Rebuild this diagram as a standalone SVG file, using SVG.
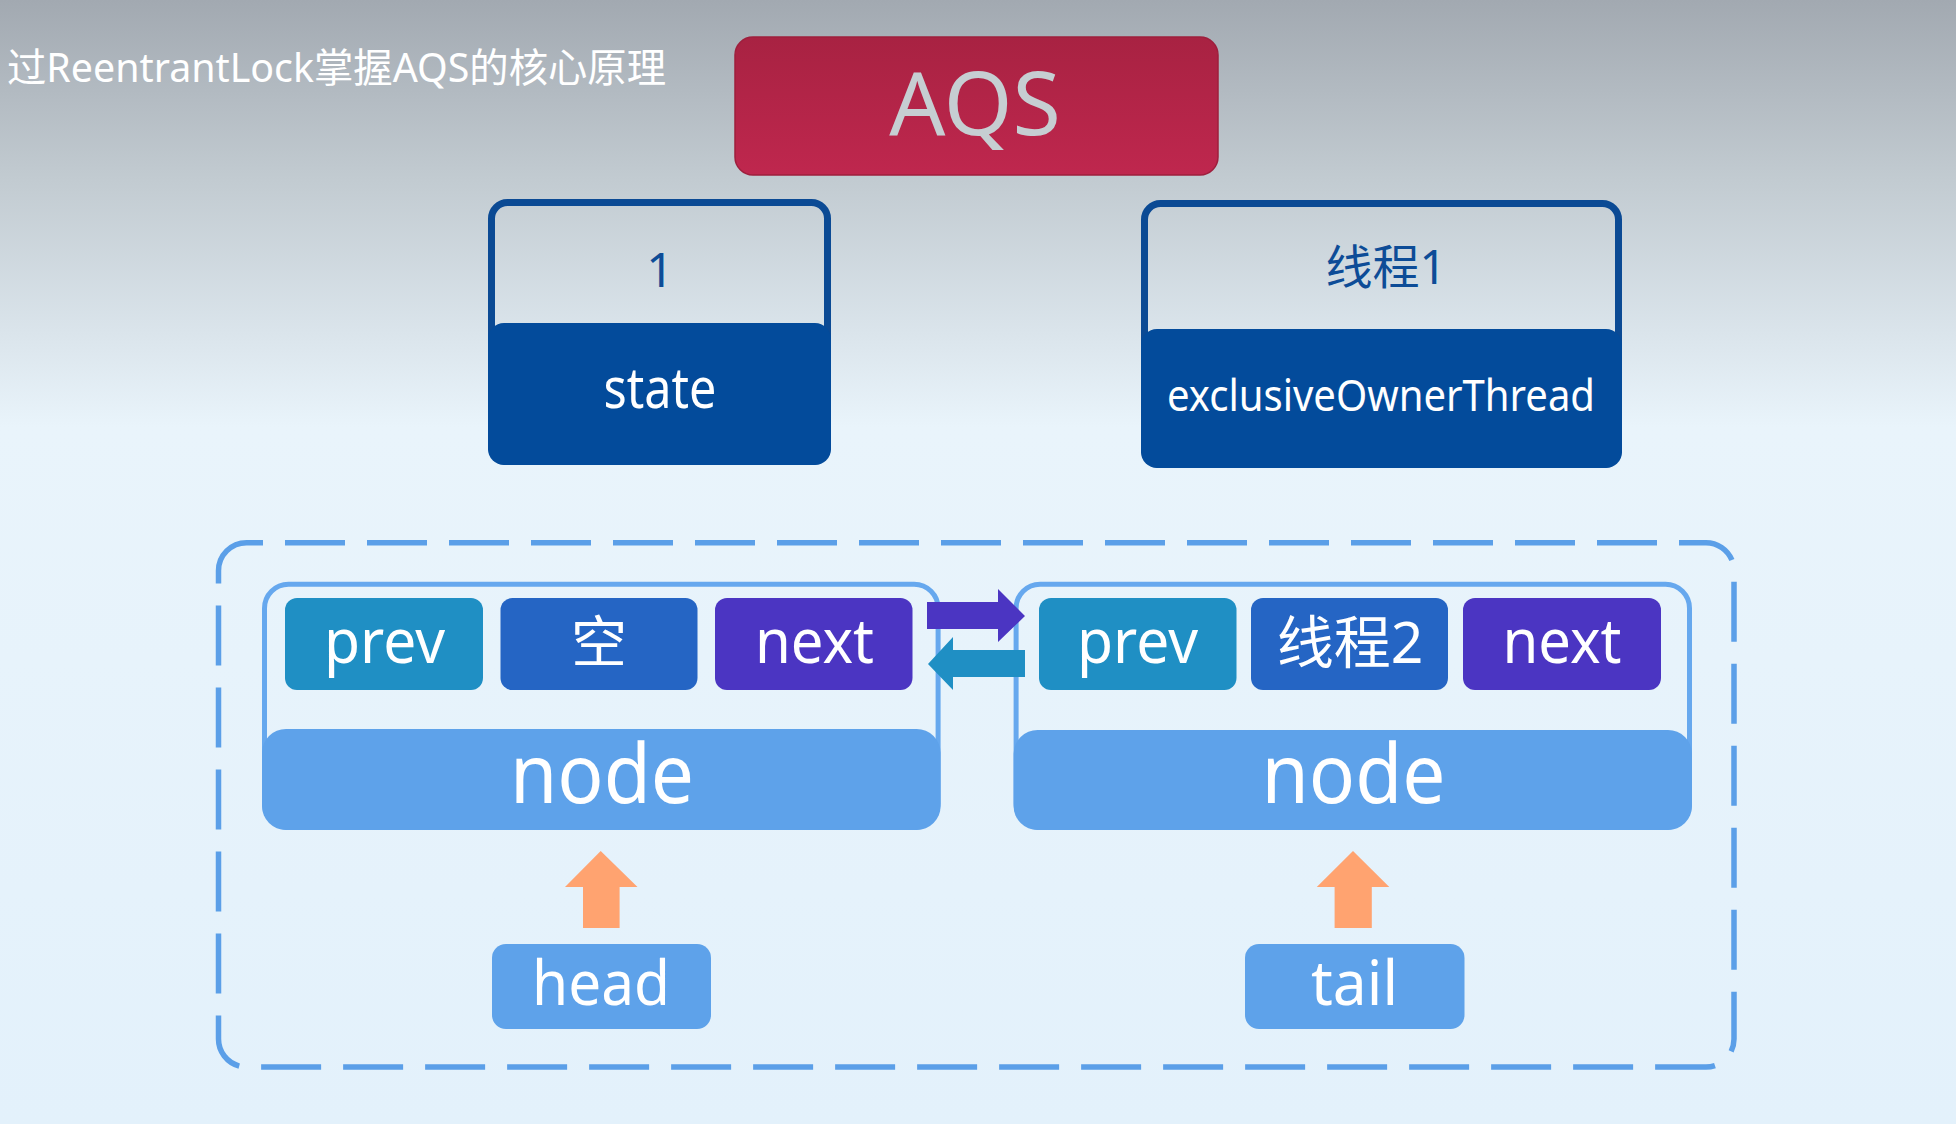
<svg xmlns="http://www.w3.org/2000/svg" width="1956" height="1124" viewBox="0 0 1956 1124">
<defs>
<linearGradient id="bg" x1="0" y1="0" x2="0" y2="1">
<stop offset="0" stop-color="#a2a9b1"/>
<stop offset="0.16" stop-color="#c2cbd1"/>
<stop offset="0.3" stop-color="#dbe5ec"/>
<stop offset="0.38" stop-color="#e9f4fb"/>
<stop offset="1" stop-color="#e3f1fb"/>
</linearGradient>
<linearGradient id="red" x1="0" y1="0" x2="0" y2="1">
<stop offset="0" stop-color="#a82242"/>
<stop offset="1" stop-color="#bf274e"/>
</linearGradient>
<style>
text{font-family:"Noto Sans","Noto Sans CJK SC",sans-serif;text-anchor:middle}
.w{fill:#ffffff}
.dk{fill:#0d4c97}
.frame{fill:none;stroke:#0b4a94;stroke-width:7}
.dark{fill:#034b9b}
.nodeline{fill:none;stroke:#66a8ee;stroke-width:5}
.nodefill{fill:#5ea2ea}
.prev{fill:#1f8fc4}
.val{fill:#2565c4}
.next{fill:#4b35c2}
.orange{fill:#ffa370}
</style>
</defs>
<rect x="0" y="0" width="1956" height="1124" fill="url(#bg)"/>
<text class="w" x="7" y="82" font-size="40" style="text-anchor:start" textLength="659" lengthAdjust="spacingAndGlyphs">过ReentrantLock掌握AQS的核心原理</text>

<g id="aqs">
<rect x="735" y="37" width="483" height="138" rx="18" fill="url(#red)" stroke="#9e1f3d" stroke-width="1.5"/>
<text x="975" y="135" font-size="88" fill="#c6ced2">AQS</text>
</g>

<g id="state">
<rect class="frame" x="491.5" y="202.5" width="336" height="259" rx="16"/>
<rect class="dark" x="488" y="323" width="343" height="142" rx="16"/>
<text class="dk" x="660" y="287" font-size="48">1</text>
<text class="w" x="660" y="408" font-size="56" textLength="113" lengthAdjust="spacingAndGlyphs">state</text>
</g>

<g id="owner">
<rect class="frame" x="1144.5" y="203.5" width="474" height="261" rx="16"/>
<rect class="dark" x="1141" y="329" width="481" height="139" rx="16"/>
<text class="dk" x="1386" y="284" font-size="47">线程1</text>
<text class="w" x="1381" y="411" font-size="43" textLength="428" lengthAdjust="spacingAndGlyphs">exclusiveOwnerThread</text>
</g>

<g id="queue">
<rect x="218.5" y="542.7" width="1515.5" height="524.3" rx="28" fill="none" stroke="#5b9fe8" stroke-width="5.5" stroke-dasharray="60 22" stroke-dashoffset="43.5"/>
</g>

<g id="node1">
<rect class="nodeline" x="264.5" y="584.2" width="673.6" height="243.3" rx="24"/>
<rect class="nodefill" x="262" y="729" width="678.6" height="101" rx="24"/>
<rect class="prev" x="285" y="598" width="198" height="92" rx="12"/>
<rect class="val" x="500.5" y="598" width="197" height="92" rx="12"/>
<rect class="next" x="715" y="598" width="197.5" height="92" rx="12"/>
<text class="w" x="384.5" y="663" font-size="62" textLength="121" lengthAdjust="spacingAndGlyphs">prev</text>
<text class="w" x="599" y="662" font-size="56">空</text>
<text class="w" x="814.5" y="663" font-size="62" textLength="119" lengthAdjust="spacingAndGlyphs">next</text>
<text class="w" x="602" y="803" font-size="82" textLength="184" lengthAdjust="spacingAndGlyphs">node</text>
</g>

<g id="node2">
<rect class="nodeline" x="1016.1" y="584.2" width="673.4" height="243.3" rx="24"/>
<rect class="nodefill" x="1013.6" y="730" width="678.4" height="100" rx="24"/>
<rect class="prev" x="1039" y="598" width="197.5" height="92" rx="12"/>
<rect class="val" x="1251" y="598" width="197" height="92" rx="12"/>
<rect class="next" x="1463" y="598" width="198" height="92" rx="12"/>
<text class="w" x="1137.5" y="663" font-size="62" textLength="121" lengthAdjust="spacingAndGlyphs">prev</text>
<text class="w" x="1350" y="663" font-size="57">线程2</text>
<text class="w" x="1562" y="663" font-size="62" textLength="119" lengthAdjust="spacingAndGlyphs">next</text>
<text class="w" x="1353.5" y="803" font-size="82" textLength="184" lengthAdjust="spacingAndGlyphs">node</text>
</g>

<g id="head">
<rect class="nodefill" x="492" y="944" width="219" height="85" rx="14"/>
<text class="w" x="601" y="1005" font-size="62" textLength="138" lengthAdjust="spacingAndGlyphs">head</text>
</g>

<g id="tail">
<rect class="nodefill" x="1245" y="944" width="219.5" height="85" rx="14"/>
<text class="w" x="1354.5" y="1005" font-size="62" textLength="87" lengthAdjust="spacingAndGlyphs">tail</text>
</g>

<g id="connectors">
<polygon class="next" points="927,602 998,602 998,589 1025,616 998,642 998,629 927,629"/>
<polygon class="prev" points="1025,650 953,650 953,637 928,664 953,690 953,677 1025,677"/>
<polygon class="orange" points="600.7,851 637.5,887 619.6,887 619.6,928 583,928 583,887 565,887"/>
<polygon class="orange" points="1353,851 1389.3,887 1371.8,887 1371.8,928 1334.6,928 1334.6,887 1316.8,887"/>
</g>
</svg>
